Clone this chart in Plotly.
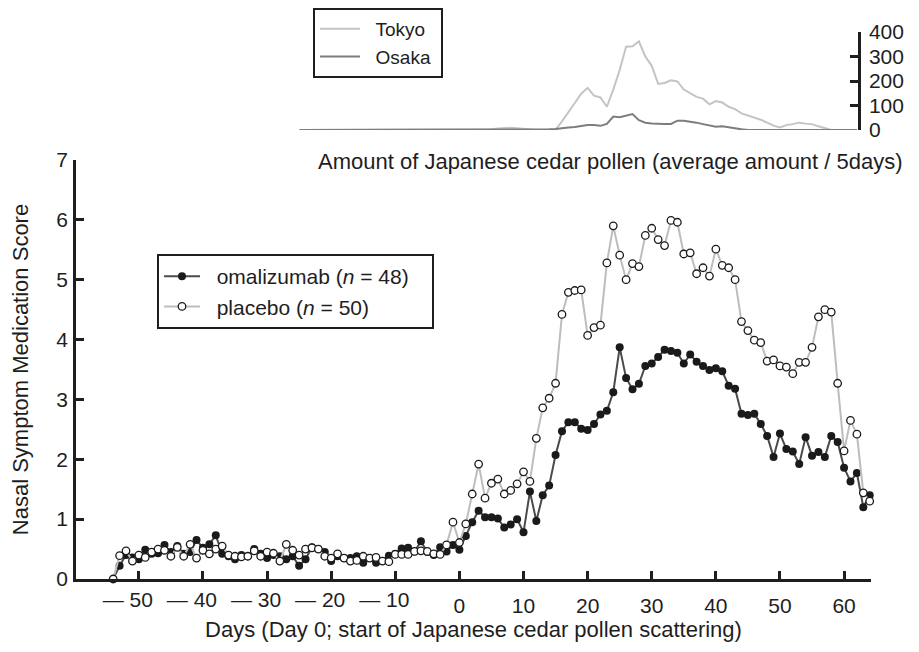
import plotly.graph_objects as go

# ---------------- data ----------------
days = list(range(-54, 65))

omalizumab = [
    0.00, 0.22, 0.40, 0.36, 0.33, 0.49, 0.42, 0.43, 0.57, 0.45,   # -54..-45
    0.55, 0.42, 0.45, 0.65, 0.52, 0.58, 0.73, 0.42, 0.38, 0.33,   # -44..-35
    0.40, 0.38, 0.50, 0.42, 0.35, 0.40, 0.38, 0.33, 0.38, 0.22,   # -34..-25
    0.33, 0.53, 0.50, 0.45, 0.30, 0.38, 0.35, 0.35, 0.38, 0.27,   # -24..-15
    0.35, 0.27, 0.30, 0.39, 0.42, 0.51, 0.52, 0.46, 0.63, 0.45,   # -14..-5
    0.40, 0.53, 0.46, 0.57, 0.49,                                 # -4..0
    0.72, 0.95, 1.14, 1.03, 1.03, 1.01, 0.86, 0.91, 1.00, 0.78,   # 1..10
    1.46, 0.97, 1.40, 1.56, 2.07, 2.47, 2.62, 2.62, 2.51, 2.49,   # 11..20
    2.59, 2.75, 2.81, 3.12, 3.87, 3.36, 3.17, 3.26, 3.56, 3.60,   # 21..30
    3.71, 3.83, 3.81, 3.78, 3.60, 3.75, 3.63, 3.56, 3.49, 3.52,   # 31..40
    3.47, 3.23, 3.18, 2.76, 2.74, 2.76, 2.59, 2.39, 2.04, 2.43,   # 41..50
    2.17, 2.13, 1.92, 2.37, 2.06, 2.12, 2.04, 2.39, 2.29, 1.86,   # 51..60
    1.63, 1.77, 1.20, 1.40,                                       # 61..64
]

placebo = [
    0.00, 0.39, 0.47, 0.30, 0.40, 0.36, 0.45, 0.50, 0.48, 0.38,   # -54..-45
    0.53, 0.38, 0.58, 0.35, 0.48, 0.42, 0.50, 0.55, 0.40, 0.38,   # -44..-35
    0.37, 0.38, 0.47, 0.38, 0.45, 0.43, 0.30, 0.58, 0.48, 0.40,   # -34..-25
    0.50, 0.52, 0.50, 0.38, 0.35, 0.42, 0.35, 0.30, 0.31, 0.38,   # -24..-15
    0.35, 0.36, 0.30, 0.29, 0.41, 0.41, 0.41, 0.46, 0.47, 0.46,   # -14..-5
    0.42, 0.41, 0.57, 0.95, 0.61,                                 # -4..0
    0.92, 1.42, 1.92, 1.35, 1.60, 1.67, 1.42, 1.48, 1.59, 1.79,   # 1..10
    1.63, 2.35, 2.86, 3.02, 3.27, 4.42, 4.79, 4.82, 4.83, 4.07,   # 11..20
    4.20, 4.24, 5.28, 5.90, 5.41, 5.00, 5.27, 5.22, 5.74, 5.86,   # 21..30
    5.67, 5.57, 5.99, 5.96, 5.43, 5.45, 5.10, 5.20, 5.06, 5.51,   # 31..40
    5.24, 5.20, 5.00, 4.30, 4.15, 3.99, 3.95, 3.64, 3.66, 3.56,   # 41..50
    3.54, 3.43, 3.62, 3.62, 3.87, 4.38, 4.50, 4.46, 3.27, 2.14,   # 51..60
    2.65, 2.42, 1.44, 1.30,                                       # 61..64
]

pollen_days = list(range(-25, 63))

tokyo = [0] * 30 + [                                               # -25..4
    3, 6, 8, 9, 7, 4, 2, 0, 0, 0,                                  # 5..14
    2, 35, 75, 110, 148, 172, 140, 133, 95, 165,                   # 15..24
    245, 340, 342, 362, 300, 262, 188, 192, 203, 198,              # 25..34
    165, 150, 135, 128, 105, 118, 112, 95, 85, 68,                 # 35..44
    60, 52, 42, 30, 18, 10, 20, 24, 30, 26,                        # 45..54
    24, 15, 6, 0, 0, 0, 0, 0,                                      # 55..62
]

osaka = [0] * 37 + [                                               # -25..11
    1, 2, 3, 4, 8, 10, 12, 17, 20, 20,                             # 12..21
    17, 25, 55, 52, 57, 65, 40, 30, 27, 25,                        # 22..31
    25, 25, 38, 38, 35, 30, 24, 18, 13, 15,                        # 32..41
    10, 7, 3, 0, 0, 0, 0, 0, 0, 0,                                 # 42..51
    0, 0, 0, 0, 0, 0, 0, 0, 0, 0, 0,                               # 52..62
]

x_tickvals_neg = [-50, -40, -30, -20, -10]
x_ticktext_neg = ["\u2014 50", "\u2014 40", "\u2014 30", "\u2014 20", "\u2014 10"]
x_tickvals_pos = [0, 10, 20, 30, 40, 50, 60]
x_ticktext_pos = ["0", "10", "20", "30", "40", "50", "60"]
y_tickvals = [0, 1, 2, 3, 4, 5, 6, 7]
pollen_tickvals = [0, 100, 200, 300, 400]

assert len(omalizumab) == len(days) == len(placebo)
assert len(tokyo) == len(pollen_days) == len(osaka)

# ---------------- layout helpers ----------------
W, H = 919, 652
OFF = 8  # the page places the figure 8px from the window's top-left corner
def px(x):
    return (x - OFF) / W
def py(y):
    return (H - (y - OFF)) / H

FONT = "Liberation Sans, Arial, Helvetica, sans-serif"
INK = "#1e1e1e"
TICK_SIZE = 21
TEXT_SIZE = 22
NB = "\u00a0"

fig = go.Figure()

fig.add_trace(go.Scatter(
    x=days, y=omalizumab, name=NB * 2 + "omalizumab (<i>n</i> = 48)" + NB * 3,
    mode="lines+markers", cliponaxis=False,
    line=dict(color="#4a4a4a", width=2),
    marker=dict(size=8, color="#1a1a1a", line=dict(width=0)),
    xaxis="x", yaxis="y", legend="legend",
))
# placebo is drawn on the overlaid day axis (identical scale) so it sits on top
fig.add_trace(go.Scatter(
    x=days, y=placebo, name=NB * 2 + "placebo (<i>n</i> = 50)",
    mode="lines+markers", cliponaxis=False,
    line=dict(color="#bdbdbd", width=2),
    marker=dict(size=7.5, color="white", line=dict(width=1.3, color="#1a1a1a")),
    xaxis="x3", yaxis="y", legend="legend",
))

fig.add_trace(go.Scatter(
    x=pollen_days, y=tokyo, name=NB * 2 + "Tokyo" + NB, mode="lines", cliponaxis=False,
    line=dict(color="#c4c4c4", width=2),
    xaxis="x2", yaxis="y2", legend="legend2",
))
fig.add_trace(go.Scatter(
    x=pollen_days, y=osaka, name=NB * 2 + "Osaka" + NB, mode="lines", cliponaxis=False,
    line=dict(color="#7d7d7d", width=2),
    xaxis="x2", yaxis="y2", legend="legend2",
))

x0_px, x1_px = 76, 871
xr = [-59.8, 64.2]
scale = (x1_px - x0_px) / (xr[1] - xr[0])
p0_px, p1_px = 299.5, 858
x2r = [(p0_px - x0_px) / scale + xr[0], (p1_px - x0_px) / scale + xr[0]]

axis_common = dict(showgrid=False, zeroline=False, showline=True,
                   linecolor=INK, linewidth=2.5, ticks="inside",
                   tickcolor=INK, tickwidth=2.5, ticklen=8,
                   tickfont=dict(family=FONT, size=TICK_SIZE, color=INK),
                   automargin=False)

fig.update_layout(
    width=W, height=H,
    margin=dict(l=0, r=0, t=0, b=0),
    paper_bgcolor="white", plot_bgcolor="white",
    font=dict(family=FONT, size=TEXT_SIZE, color=INK),
    xaxis=dict(domain=[px(x0_px), px(x1_px)], range=xr,
               tickmode="array", tickvals=x_tickvals_pos, ticktext=x_ticktext_pos,
               tickangle=0, anchor="y", ticklabelstandoff=6,
               title=dict(text="Days (Day 0; start of Japanese cedar pollen scattering)",
                          font=dict(family=FONT, size=TEXT_SIZE, color=INK), standoff=6),
               **axis_common),
    # negative-day ticks: labels shifted so the number (not the dash) sits on the tick
    xaxis3=dict(domain=[px(x0_px), px(x1_px)], range=xr, overlaying="x",
                matches="x", anchor="y", side="bottom",
                tickmode="array", tickvals=x_tickvals_neg, ticktext=x_ticktext_neg,
                tickangle=0, ticklabelstandoff=6, ticklabelshift=-11,
                showgrid=False, zeroline=False, showline=False,
                ticks="inside", tickcolor=INK, tickwidth=2.5, ticklen=8,
                tickfont=dict(family=FONT, size=TICK_SIZE, color=INK),
                automargin=False),
    yaxis=dict(domain=[py(579), py(160)], range=[0, 7],
               tickmode="array", tickvals=y_tickvals, anchor="x",
               ticklabelstandoff=1,
               title=dict(text="Nasal Symptom Medication Score",
                          font=dict(family=FONT, size=TEXT_SIZE, color=INK), standoff=33),
               **axis_common),
    xaxis2=dict(domain=[px(p0_px), px(p1_px)], range=x2r, anchor="y2",
                visible=False),
    yaxis2=dict(domain=[py(130), py(32)], range=[0, 400], anchor="x2",
                side="right", tickmode="array", tickvals=pollen_tickvals,
                ticklabelstandoff=4, **axis_common),
    legend=dict(x=px(157), y=py(254), xanchor="left", yanchor="top",
                bgcolor="white", bordercolor=INK, borderwidth=2,
                font=dict(family=FONT, size=21, color=INK),
                itemwidth=36, tracegroupgap=0),
    legend2=dict(x=px(313), y=1, xanchor="left", yanchor="top",
                 bgcolor="white", bordercolor=INK, borderwidth=2,
                 font=dict(family=FONT, size=19, color=INK),
                 itemwidth=40, tracegroupgap=0),
    annotations=[dict(text="Amount of Japanese cedar pollen (average amount / 5days)",
                      x=px(610), y=py(162), xref="paper", yref="paper",
                      xanchor="center", yanchor="middle", showarrow=False,
                      font=dict(family=FONT, size=TEXT_SIZE, color=INK))],
    showlegend=True,
)

fig.write_html("out.html")
